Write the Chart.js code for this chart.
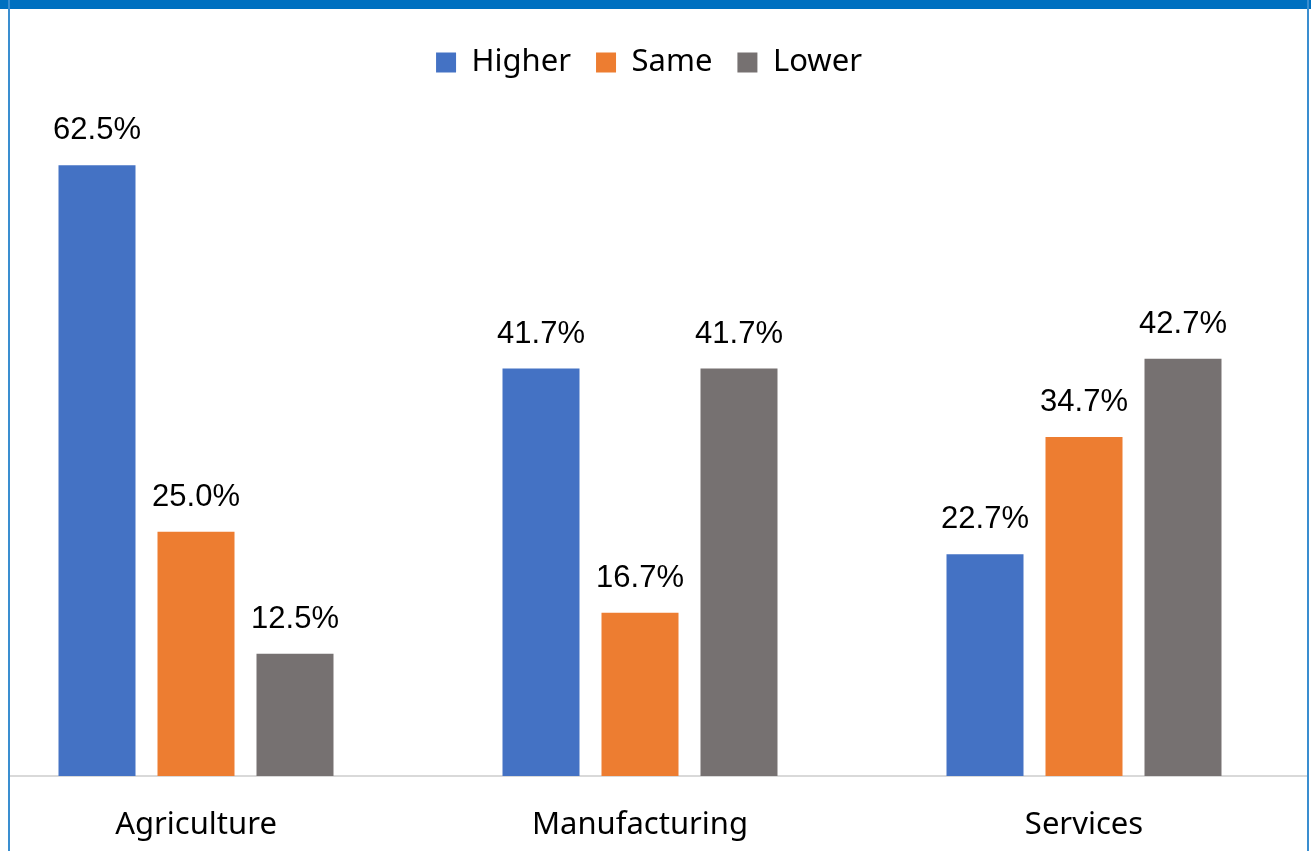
<!DOCTYPE html>
<html>
<head>
<meta charset="utf-8">
<script src="https://cdn.jsdelivr.net/npm/chart.js@4/dist/chart.umd.min.js"></script>
<style>
  html, body { margin: 0; padding: 0; background: #fff; }
  #page { position: relative; width: 1311px; height: 851px; overflow: hidden; background: #fff; }
  #topbar { position: absolute; left: 0; top: 0; width: 1311px; height: 9px; background: #0070C0; z-index: 3; }
  #lborder { position: absolute; left: 8px; top: 0; width: 2px; height: 851px; background: #3A8ED0; z-index: 3; }
  #rborder { position: absolute; left: 1307px; top: 0; width: 2px; height: 851px; background: #3A8ED0; z-index: 3; }
  #clip { position: absolute; left: 10px; top: 0; width: 1297px; height: 851px; overflow: hidden; z-index: 1; }
  #wrap { position: absolute; left: -36px; top: 0; width: 1358px; height: 851px; }
</style>
</head>
<body>
<div id="page">
  <div id="topbar"></div>
  <div id="lborder"></div>
  <div id="rborder"></div>
  <div id="clip"><div id="wrap"><canvas id="c" width="1358" height="851"></canvas></div></div>
</div>
<script>
const categories = ["Agriculture", "Manufacturing", "Services"];
const seriesNames = ["Higher", "Same", "Lower"];
const higher = [62.5, 41.7, 22.7];
const same = [25.0, 16.7, 34.7];
const lower = [12.5, 41.7, 42.7];
const colors = ["#4472C4", "#ED7D31", "#767171"];
const yMax = 70;

const labelPlugin = {
  id: 'barLabels',
  afterDatasetsDraw(chart) {
    const ctx = chart.ctx;
    ctx.save();
    ctx.font = '31px "Liberation Sans", Arial, sans-serif';
    ctx.fillStyle = '#000';
    ctx.textAlign = 'center';
    ctx.textBaseline = 'alphabetic';
    chart.data.datasets.forEach((ds, di) => {
      const meta = chart.getDatasetMeta(di);
      meta.data.forEach((bar, i) => {
        ctx.fillText(ds.data[i].toFixed(1) + '%', bar.x, bar.y - 26);
      });
    });
    ctx.restore();
  }
};

const legendSpacePlugin = {
  id: 'legendSpace',
  beforeLayout(chart) {
    const lg = chart.legend;
    if (lg && !lg._extraWrapped) {
      const f = lg.fit.bind(lg);
      lg.fit = function () { f(); this.height += 4; };
      lg._extraWrapped = true;
    }
  },
  afterLayout(chart) {
    const lg = chart.legend;
    if (lg) { lg.left += 9; lg.right += 9; }
  }
};

new Chart(document.getElementById('c'), {
  type: 'bar',
  data: {
    labels: categories,
    datasets: [
      { label: seriesNames[0], data: higher, backgroundColor: colors[0], borderWidth: 0 },
      { label: seriesNames[1], data: same, backgroundColor: colors[1], borderWidth: 0 },
      { label: seriesNames[2], data: lower, backgroundColor: colors[2], borderWidth: 0 }
    ]
  },
  options: {
    responsive: false,
    animation: false,
    devicePixelRatio: 1,
    layout: { padding: { top: 22, right: 26, left: 0, bottom: 0 } },
    datasets: { bar: { categoryPercentage: 0.6689, barPercentage: 0.7778 } },
    plugins: {
      legend: {
        position: 'top',
        labels: {
          boxWidth: 20, boxHeight: 20, padding: 25,
          color: '#000',
          font: { family: '"Noto Sans", sans-serif', size: 31 }
        }
      },
      tooltip: { enabled: false }
    },
    scales: {
      x: {
        grid: { display: false, drawTicks: false },
        border: { display: true, color: '#D9D9D9', width: 2 },
        ticks: { color: '#000', padding: 31, font: { family: '"Noto Sans", sans-serif', size: 31 } },
        afterFit(scale) { scale.height = 75; }
      },
      y: { display: false, min: 0, max: yMax }
    }
  },
  plugins: [labelPlugin, legendSpacePlugin]
});
</script>
</body>
</html>
